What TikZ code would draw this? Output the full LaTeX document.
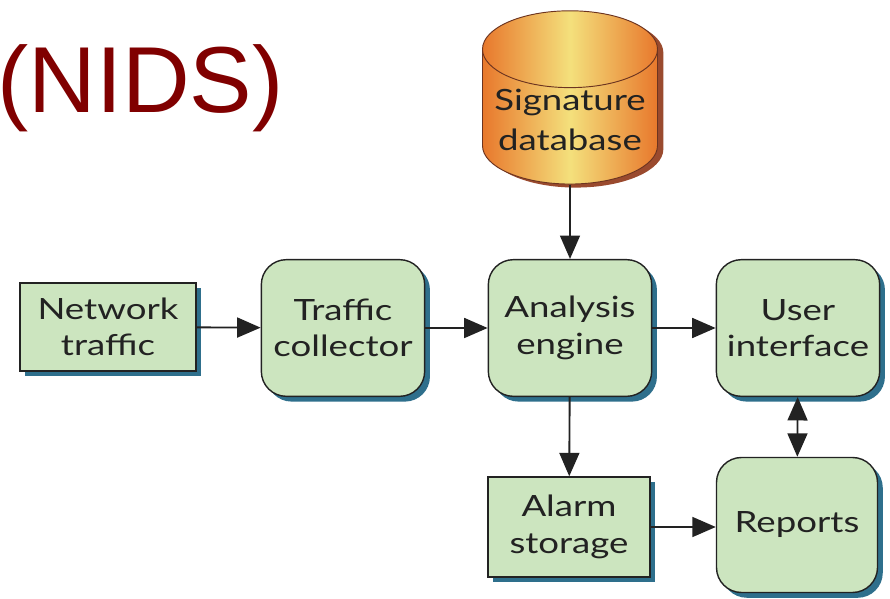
\documentclass[tikz,border=0pt]{standalone}
\usepackage{fontspec}
\setmainfont{Liberation Sans}
\newfontfamily\boxfont[FakeStretch=1.25]{Lato}
\usepackage{tikz}
\usetikzlibrary{shapes.geometric,shadows,arrows.meta}

\definecolor{boxgreen}{HTML}{CCE5BF}
\definecolor{shadowblue}{HTML}{2E6F8C}
\definecolor{titlered}{HTML}{800000}
\definecolor{inkgray}{HTML}{222222}
\definecolor{dbshadow}{HTML}{9A4A2E}
\definecolor{dbedge}{HTML}{E8782C}
\definecolor{dbmid}{HTML}{F4E07C}

\tikzset{
  box/.style={draw=inkgray, line width=1.2pt, fill=boxgreen, align=center,
    text=inkgray, font=\boxfont\fontsize{25}{31}\selectfont,
    drop shadow={shadow xshift=4.5pt, shadow yshift=-4.5pt, fill=shadowblue, opacity=1}},
  roundbox/.style={box, rounded corners=0.75cm},
  flow/.style={line width=1.6pt, draw=inkgray, -{Triangle[length=20pt,width=17pt]}}
}

\begin{document}
\begin{tikzpicture}[x=0.03cm, y=-0.03cm]
            \useasboundingbox (0,0) rectangle (890,599);
            \node[anchor=base west, inner sep=0pt, text=titlered, font=\fontsize{80}{90}\selectfont] (title) at (-3,113) {(NIDS)};
            \node[shape=cylinder, shape border rotate=90, aspect=0.5, inner sep=1pt, draw=dbshadow!70!black, line width=0.8pt,
                  left color=dbedge, right color=dbedge, middle color=dbmid,
                  minimum width=5.25cm, align=center, text=inkgray,
                  font=\boxfont\fontsize{25}{34}\selectfont,
                  drop shadow={shadow xshift=5pt, shadow yshift=-3pt, fill=dbshadow, opacity=1}]
                  (db) at (570,120) {Signature\\database};
            \node[box, minimum width=5.28cm, minimum height=2.64cm] (net) at (108,327) {Network\\traffic};
            \node[roundbox, minimum width=4.9cm, minimum height=4.1cm] (coll) at (343,328) {Traffic\\collector};
            \node[roundbox, minimum width=4.9cm, minimum height=4.1cm] (ana) at (570,328) {Analysis\\engine};
            \node[roundbox, minimum width=4.9cm, minimum height=4.1cm] (ui) at (798,328) {User\\interface};
            \node[box, minimum width=4.86cm, minimum height=3cm] (alarm) at (569,527) {Alarm\\storage};
            \node[roundbox, minimum width=4.83cm, minimum height=4.05cm] (rep) at (797,525) {Reports};
            \draw[flow] (net) -- (coll);
            \draw[flow] (coll) -- (ana);
            \draw[flow] (ana) -- (ui);
            \draw[flow] (db) -- (ana);
            \draw[flow] (ana) -- (alarm);
            \draw[flow] (alarm.east) -- (rep.west |- alarm.east);
            \draw[flow, {Triangle[length=20pt,width=17pt]}-{Triangle[length=20pt,width=17pt]}] (ui) -- (rep);
        \end{tikzpicture}
\end{document}
